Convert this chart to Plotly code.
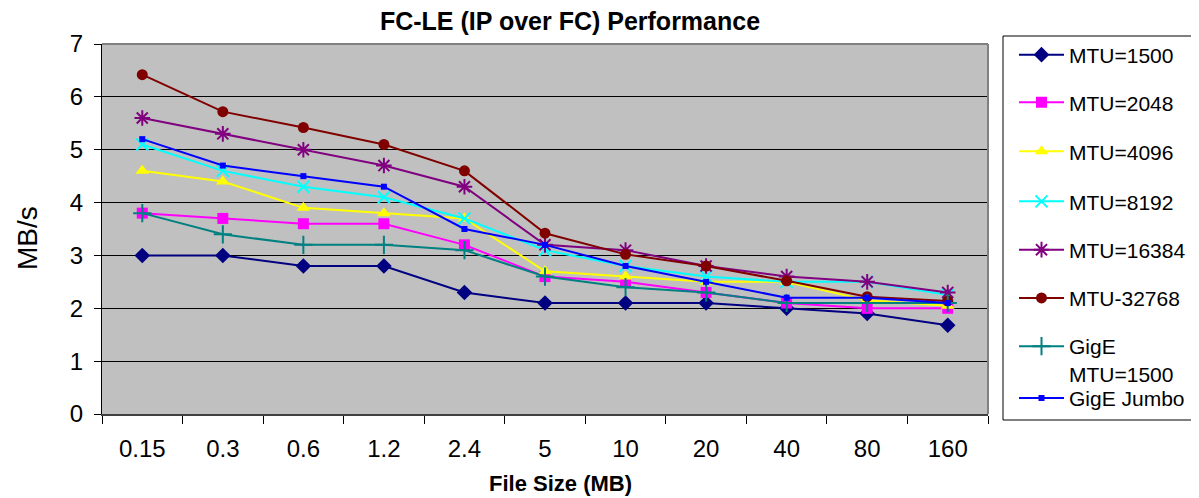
import plotly.graph_objects as go

file_sizes = ["0.15", "0.3", "0.6", "1.2", "2.4", "5", "10", "20", "40", "80", "160"]
mtu_1500 = [3.0, 3.0, 2.8, 2.8, 2.3, 2.1, 2.1, 2.1, 2.0, 1.9, 1.68]
mtu_2048 = [3.8, 3.7, 3.6, 3.6, 3.2, 2.6, 2.5, 2.3, 2.1, 2.0, 2.0]
mtu_4096 = [4.6, 4.4, 3.9, 3.8, 3.7, 2.7, 2.6, 2.5, 2.5, 2.15, 2.05]
mtu_8192 = [5.1, 4.6, 4.3, 4.1, 3.7, 3.1, 2.8, 2.6, 2.5, 2.5, 2.25]
mtu_16384 = [5.6, 5.3, 5.0, 4.7, 4.3, 3.2, 3.1, 2.8, 2.6, 2.5, 2.3]
mtu_32768 = [6.42, 5.72, 5.42, 5.1, 4.6, 3.42, 3.02, 2.8, 2.52, 2.22, 2.14]
gige_1500 = [3.8, 3.4, 3.2, 3.2, 3.1, 2.6, 2.4, 2.3, 2.1, 2.1, 2.1]
gige_jumbo = [5.2, 4.7, 4.5, 4.3, 3.5, 3.2, 2.8, 2.5, 2.2, 2.2, 2.1]

series_names = ["MTU=1500", "MTU=2048", "MTU=4096", "MTU=8192", "MTU=16384",
                "MTU-32768", "GigE<br>MTU=1500", "GigE Jumbo"]
series_values = [mtu_1500, mtu_2048, mtu_4096, mtu_8192, mtu_16384,
                 mtu_32768, gige_1500, gige_jumbo]

styles = [
    dict(color="#000080", symbol="diamond", size=12),
    dict(color="#FF00FF", symbol="square", size=11),
    dict(color="#FFFF00", symbol="triangle-up", size=12),
    dict(color="#00FFFF", symbol="x-thin", size=12),
    dict(color="#800080", symbol="asterisk", size=13),
    dict(color="#800000", symbol="circle", size=11),
    dict(color="#008080", symbol="cross-thin", size=13),
    dict(color="#0000FF", symbol="square", size=6),
]

FONT = "Arial, Liberation Sans, sans-serif"

# page coordinates -> figure placed with 8px body offset
W, H = 1191, 490
PL, PR, PT, PB = 102, 988, 44, 414  # plot area in page pixels


def px_x(px):
    return (px - PL) / (PR - PL)


def px_y(py):
    return (PB - py) / (PB - PT)


legend_rows = [55, 102.7, 151.7, 201.7, 250, 298.3, 360, 398.3]

fig = go.Figure()
layout_legends = {}
for i, (name, vals, st) in enumerate(zip(series_names, series_values, styles)):
    thin = st["symbol"] in ("x-thin", "cross-thin", "asterisk")
    marker = dict(symbol=st["symbol"], size=st["size"], color=st["color"])
    if thin:
        marker["line"] = dict(color=st["color"], width=2)
    lg = "legend" if i == 0 else f"legend{i + 1}"
    fig.add_trace(go.Scatter(
        x=file_sizes, y=vals, name=name, mode="lines+markers",
        line=dict(color=st["color"], width=2),
        marker=marker, legend=lg,
    ))
    layout_legends[lg] = dict(
        x=px_x(1014), y=px_y(legend_rows[i]), xanchor="left", yanchor="middle",
        font=dict(size=21, family=FONT, color="black"),
        bgcolor="rgba(0,0,0,0)", valign="top", itemwidth=45,
    )

fig.update_layout(
    width=W, height=H,
    margin=dict(l=PL - 8, r=W - (PR - 8), t=PT - 8, b=H - (PB - 8),
                autoexpand=False),
    paper_bgcolor="white",
    plot_bgcolor="#C0C0C0",
    font=dict(family=FONT, color="black"),
    title=dict(text="<b>FC-LE (IP over FC) Performance</b>",
               x=(570 - 8) / W, xref="container", xanchor="center",
               y=1 - (21.5 - 8) / H, yref="container", yanchor="middle",
               font=dict(size=25, family=FONT, color="black")),
    xaxis=dict(type="category", range=[-0.5, len(file_sizes) - 0.5],
               tickson="boundaries", ticks="outside",
               ticklen=8, tickcolor="black", showgrid=False,
               showline=True, linecolor="#404040", linewidth=2,
               tickfont=dict(size=24, family=FONT), ticklabelstandoff=12),
    yaxis=dict(range=[0, 7], dtick=1, ticks="outside", ticklen=7,
               tickcolor="black", showgrid=True, gridcolor="black",
               gridwidth=1, zeroline=False, showline=True,
               linecolor="black", linewidth=1,
               tickfont=dict(size=24, family=FONT), ticklabelstandoff=6),
    showlegend=True,
    **layout_legends,
)

fig.add_annotation(text="<b>File Size (MB)</b>", xref="paper", yref="paper",
                   x=px_x(560), y=px_y(498), xanchor="center", yanchor="bottom",
                   showarrow=False, font=dict(size=22, family=FONT))
fig.add_annotation(text="MB/s", xref="paper", yref="paper",
                   x=px_x(27), y=px_y(238), xanchor="center", yanchor="middle",
                   textangle=-90, showarrow=False, font=dict(size=28, family=FONT))

# plot-area top/right borders
fig.add_shape(type="line", xref="paper", yref="paper", x0=0, x1=1, y0=1, y1=1,
              line=dict(color="#808080", width=2))
fig.add_shape(type="line", xref="paper", yref="paper", x0=1, x1=1, y0=0, y1=1,
              line=dict(color="#808080", width=2))
# legend frame
fig.add_shape(type="rect", xref="paper", yref="paper",
              x0=px_x(1003), x1=px_x(1197), y0=px_y(420), y1=px_y(36),
              line=dict(color="black", width=1))

fig.write_html("out.html")
